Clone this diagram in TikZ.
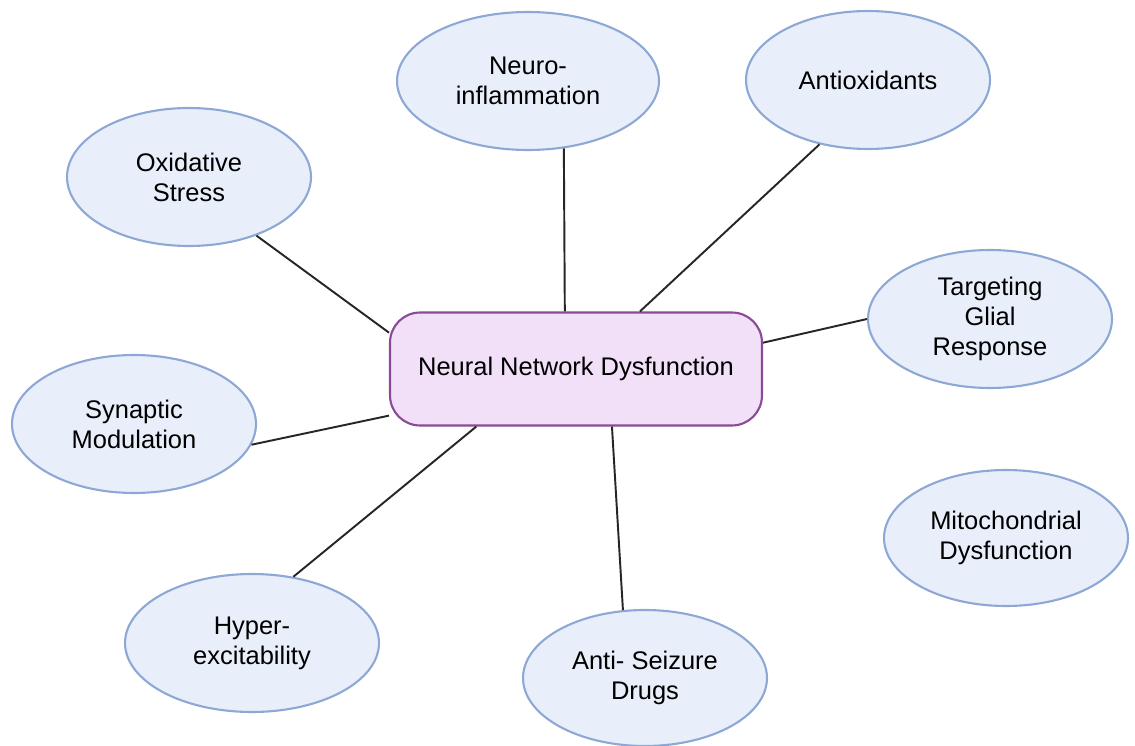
\documentclass[tikz,border=0pt]{standalone}
\usepackage{fontspec}
\setmainfont{Liberation Sans}
\usepackage{tikz}
\usetikzlibrary{shapes.geometric}
\usepackage{xcolor}
\definecolor{topicfill}{HTML}{E9EFFA}
\definecolor{topicline}{HTML}{8EA8D6}
\definecolor{corefill}{HTML}{F2DFF8}
\definecolor{coreline}{HTML}{8A4A98}

\begin{document}
\begin{tikzpicture}[x=0.02cm,y=-0.02cm,
		every node/.style={font=\fontsize{14.5}{17}\selectfont, align=center, inner sep=0pt},
		topic/.style={ellipse, draw=topicline, fill=topicfill, line width=1.2pt, minimum width=4.88cm, minimum height=2.76cm},
		link/.style={line width=1.1pt, draw=black!85}]
		\useasboundingbox (0,0) rectangle (1135,746);
		
		\node[draw=coreline, fill=corefill, line width=1.2pt, rounded corners=0.6cm, minimum width=7.44cm, minimum height=2.26cm] (net) at (576,369) {Neural Network Dysfunction};
		
		\node[topic] (ox) at (189,177) {Oxidative\\ Stress};
		\node[topic, minimum width=5.24cm] (inf) at (528,81) {Neuro-\\ inflammation};
		\node[topic] (anti) at (868,80) {Antioxidants};
		\node[topic] (glia) at (990,319) {Targeting\\ Glial\\ Response};
		\node[topic] (syn) at (134,424) {Synaptic\\ Modulation};
		\node[topic, minimum width=5.08cm] (hyp) at (252,643) {Hyper-\\ excitability};
		\node[topic, minimum height=2.72cm] (asd) at (645,678) {Anti- Seizure\\ Drugs};
		\node[topic, minimum height=2.72cm] (mito) at (1006,538) {Mitochondrial\\ Dysfunction};
		
		\draw[link]
			(ox.-41) edge (net.169)
			(inf.-62) edge (net.101)
			(anti.-127) edge (net.42)
			(glia.180) edge (net.8)
			(syn.-10) edge (net.-166)
			(hyp.58) edge (net.-150)
			(asd.108) edge (net.-58);
	\end{tikzpicture}
\end{document}
